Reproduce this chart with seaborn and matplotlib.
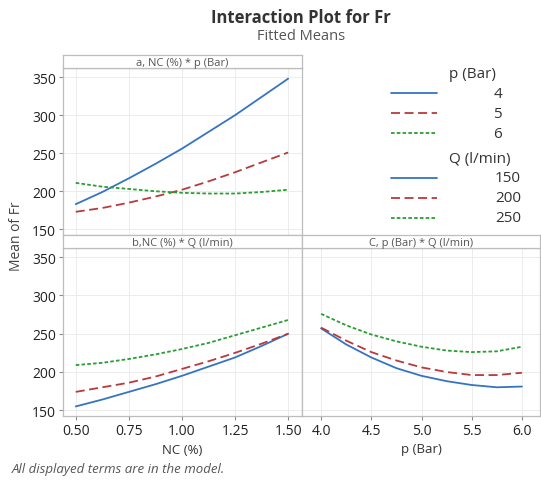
import pandas as pd
import matplotlib.pyplot as plt
import seaborn as sns
from matplotlib.lines import Line2D

# Fitted means
nc = [0.5, 0.625, 0.75, 0.875, 1.0, 1.125, 1.25, 1.375, 1.5]
p_vals = [4.0, 4.25, 4.5, 4.75, 5.0, 5.25, 5.5, 5.75, 6.0]

p_levels = ["4", "5", "6"]
q_levels = ["150", "200", "250"]

# a: NC * p
a_p4 = [183, 199, 217, 236, 256, 278, 300, 324, 348]
a_p5 = [173, 178, 185, 193, 202, 213, 225, 238, 251]
a_p6 = [211, 206, 203, 200, 198, 197, 197, 199, 202]

# b: NC * Q
b_q150 = [155, 164, 174, 184, 195, 207, 219, 234, 250]
b_q200 = [174, 180, 186, 194, 204, 214, 225, 237, 250]
b_q250 = [209, 212, 217, 223, 230, 238, 248, 258, 268]

# c: p * Q
c_q150 = [257, 236, 219, 205, 195, 188, 183, 180, 181]
c_q200 = [258, 241, 226, 215, 206, 200, 196, 196, 199]
c_q250 = [276, 261, 249, 240, 233, 228, 226, 227, 233]

colors = ["#3574c2", "#b83a3a", "#2a9e35"]
dash_styles = ["", (5, 2.5), (2, 1.2)]


def long_df(x, series, levels, xname, lvlname):
    rows = []
    for lvl, ys in zip(levels, series):
        for xv, yv in zip(x, ys):
            rows.append({xname: xv, "Fr": yv, lvlname: lvl})
    return pd.DataFrame(rows)


df_a = long_df(nc, [a_p4, a_p5, a_p6], p_levels, "NC (%)", "p (Bar)")
df_b = long_df(nc, [b_q150, b_q200, b_q250], q_levels, "NC (%)", "Q (l/min)")
df_c = long_df(p_vals, [c_q150, c_q200, c_q250], q_levels, "p (Bar)", "Q (l/min)")

sns.set_style("white")
plt.rcParams["font.family"] = ["Open Sans", "DejaVu Sans"]

W, H = 541, 481
fig = plt.figure(figsize=(W / 100, H / 100), dpi=100)


def rect(x0, y0, x1, y1):
    return [x0 / W, 1 - y1 / H, (x1 - x0) / W, (y1 - y0) / H]


ax_a = fig.add_axes(rect(63, 69, 302, 236))
ax_b = fig.add_axes(rect(63, 249, 302, 417))
ax_c = fig.add_axes(rect(302, 249, 540, 417))

grid_c = "#ececec"
spine_c = "#bdbdbd"
ylim = (142.5, 362)


def draw(ax, df, x, lvl, levels):
    sns.lineplot(data=df, x=x, y="Fr", hue=lvl, style=lvl,
                 hue_order=levels, style_order=levels,
                 palette=dict(zip(levels, colors)),
                 dashes=dict(zip(levels, dash_styles)),
                 linewidth=1.3, legend=False, ax=ax)
    ax.set_ylim(*ylim)
    ax.set_yticks([150, 200, 250, 300, 350])
    ax.grid(True, color=grid_c, linewidth=0.7)
    ax.set_axisbelow(True)
    for s in ax.spines.values():
        s.set_color(spine_c)
        s.set_linewidth(0.9)
    ax.tick_params(colors="#8a8a8a", labelcolor="#222222", labelsize=10,
                   length=3, width=0.8, pad=2, direction="out", bottom=True, left=True)
    ax.set_xlabel("")
    ax.set_ylabel("")


draw(ax_a, df_a, "NC (%)", "p (Bar)", p_levels)
draw(ax_b, df_b, "NC (%)", "Q (l/min)", q_levels)
draw(ax_c, df_c, "p (Bar)", "Q (l/min)", q_levels)

for ax in (ax_a, ax_b):
    ax.set_xlim(0.44, 1.565)
    ax.set_xticks([0.5, 0.75, 1.0, 1.25, 1.5])
ax_b.set_xticklabels(["0.50", "0.75", "1.00", "1.25", "1.50"])
ax_a.tick_params(labelbottom=False, bottom=False)
ax_c.set_xlim(3.81, 6.18)
ax_c.set_xticks([4.0, 4.5, 5.0, 5.5, 6.0])
ax_c.set_xticklabels(["4.0", "4.5", "5.0", "5.5", "6.0"])
ax_c.tick_params(labelleft=False, left=False)

# strip headers
strips = [((63, 56, 302, 69), "a, NC (%) * p (Bar)"),
          ((63, 236, 302, 249), "b,NC (%) * Q (l/min)"),
          ((302, 236, 540, 249), "C, p (Bar) * Q (l/min)")]
for (x0, y0, x1, y1), txt in strips:
    s = fig.add_axes(rect(x0, y0, x1, y1))
    s.set_xticks([])
    s.set_yticks([])
    for sp in s.spines.values():
        sp.set_color(spine_c)
        sp.set_linewidth(0.9)
    s.text(0.5, 0.45, txt, ha="center", va="center", fontsize=8,
           color="#555555", transform=s.transAxes)

# titles and labels
fig.text(301 / W, 1 - 18 / H, "Interaction Plot for Fr", ha="center", va="center",
         fontsize=12, fontweight="bold", color="#333333")
fig.text(301 / W, 1 - 36 / H, "Fitted Means", ha="center", va="center",
         fontsize=10.5, color="#555555")
fig.text(17 / W, 1 - 236 / H, "Mean of Fr", rotation=90, ha="center", va="center",
         fontsize=10, color="#444444")
fig.text(182 / W, 1 - 450 / H, "NC (%)", ha="center", va="center",
         fontsize=9.5, color="#333333")
fig.text(421 / W, 1 - 450 / H, "p (Bar)", ha="center", va="center",
         fontsize=9.5, color="#333333")
fig.text(12 / W, 1 - 470 / H, "All displayed terms are in the model.",
         ha="left", va="center", fontsize=9.5, style="italic", color="#555555")

# legend block in the empty top-right cell
def fig_xy(x, y):
    return x / W, 1 - y / H


def legend_block(title, levels, y_title):
    tx, ty = fig_xy(449, y_title)
    fig.text(tx, ty, title, ha="left", va="center", fontsize=11, color="#333333")
    for i, lvl in enumerate(levels):
        yy = y_title + 19 + 20 * i
        xa, ya = fig_xy(391, yy)
        xb, _ = fig_xy(437, yy)
        ls = "-" if dash_styles[i] == "" else (0, dash_styles[i])
        fig.add_artist(Line2D([xa, xb], [ya, ya], color=colors[i], linewidth=1.3,
                              linestyle=ls, transform=fig.transFigure))
        lx, _ = fig_xy(521 if len(lvl) == 3 else 502, yy)
        fig.text(lx, ya, lvl, ha="right", va="center", fontsize=11, color="#333333")


legend_block("p (Bar)", p_levels, 75)
legend_block("Q (l/min)", q_levels, 160)

fig.savefig("out.png", dpi=100)
